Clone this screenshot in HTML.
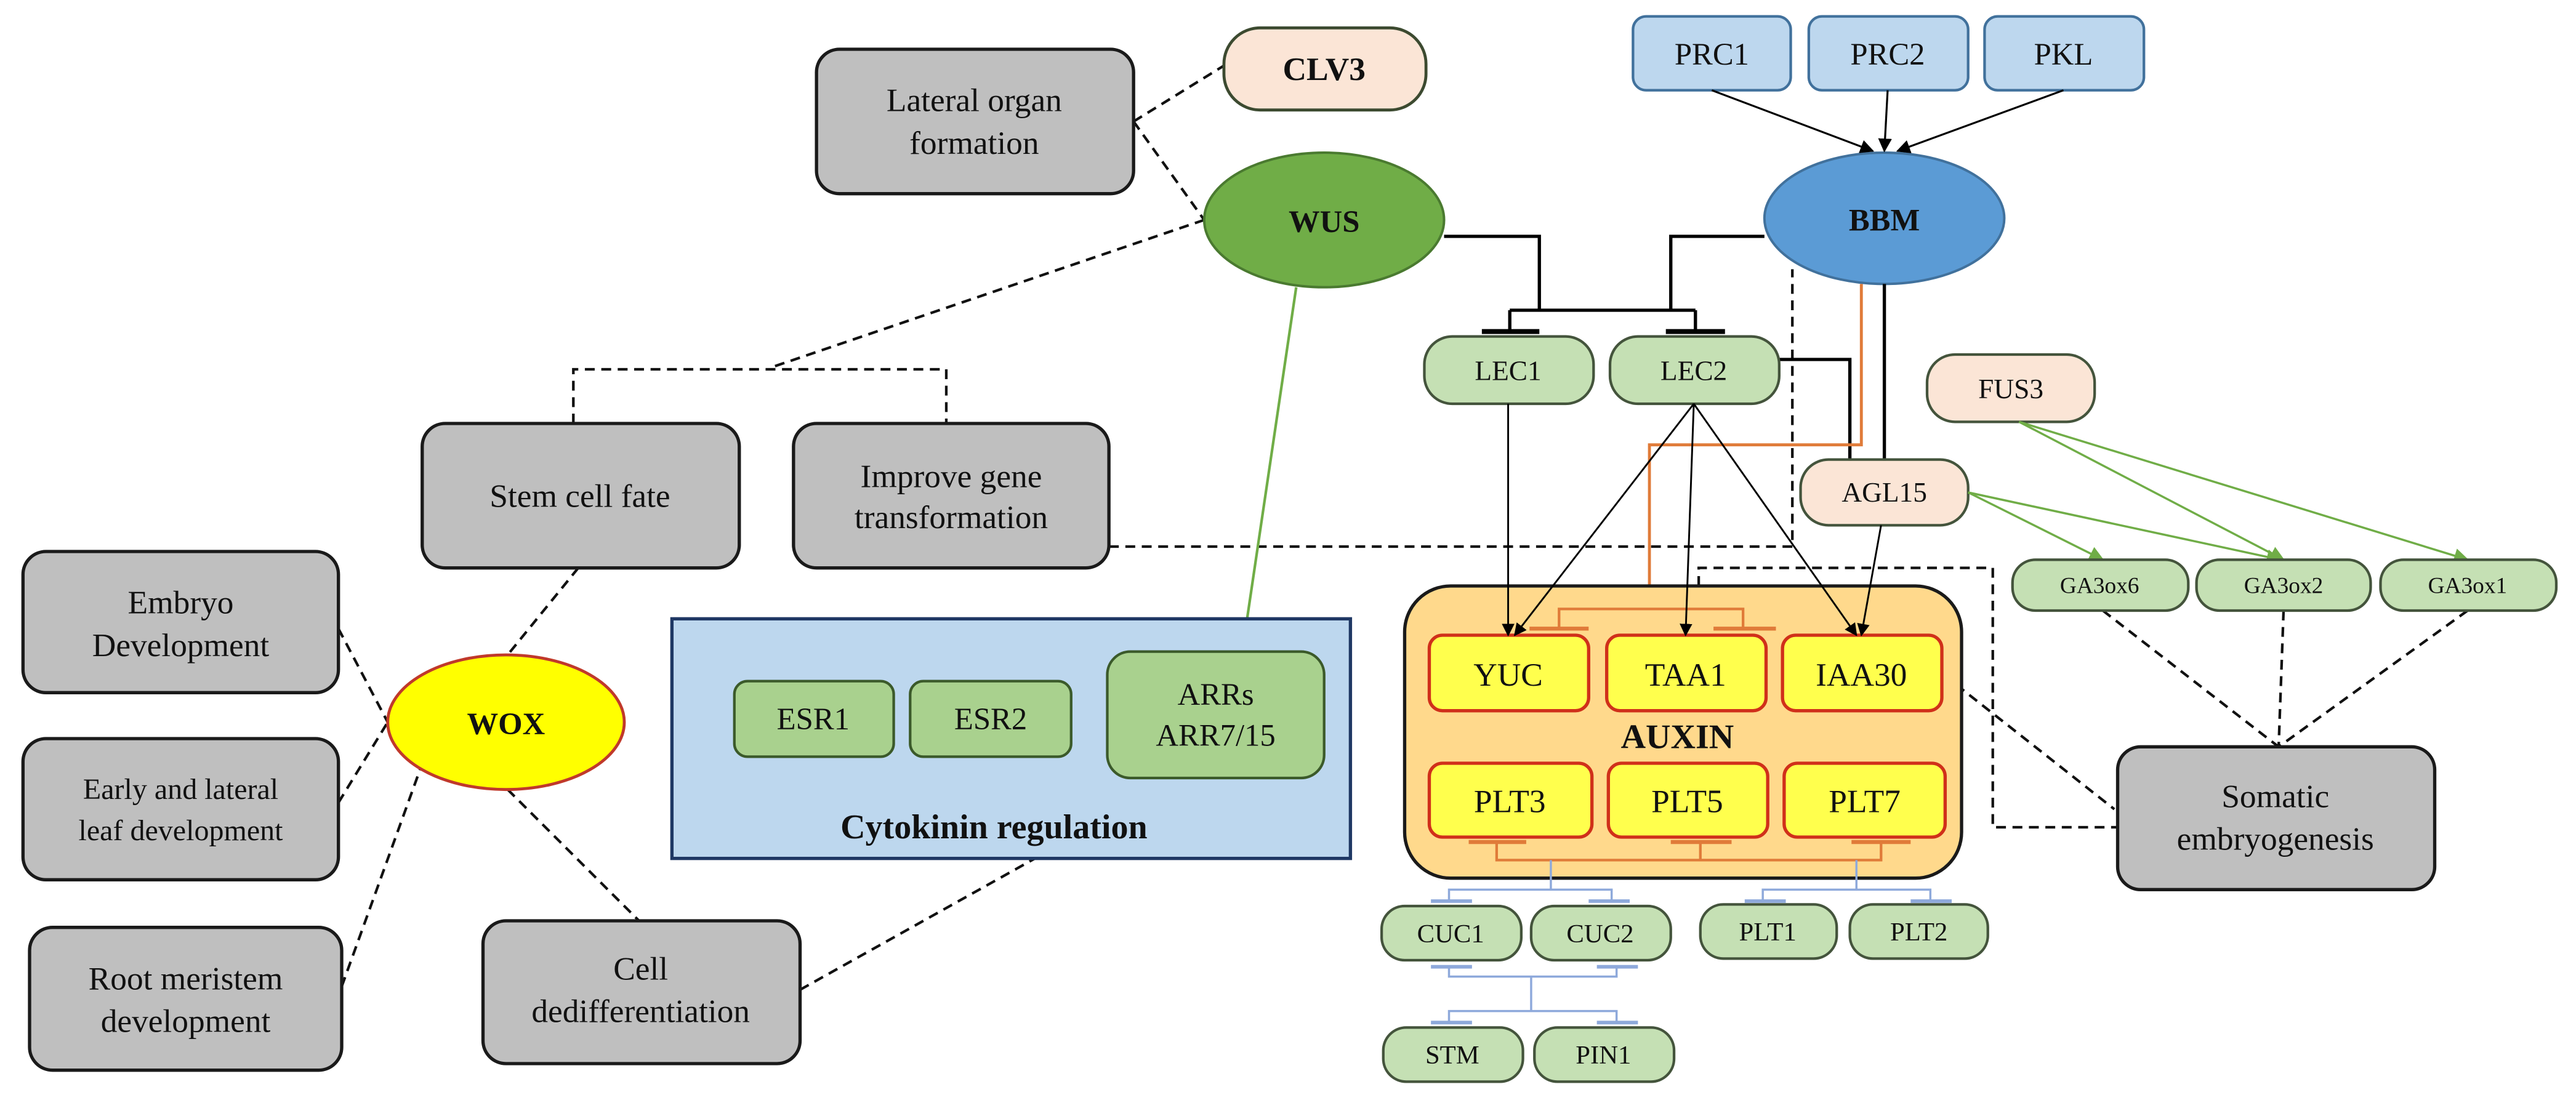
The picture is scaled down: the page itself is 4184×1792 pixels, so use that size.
<!DOCTYPE html>
<html><head><meta charset="utf-8"><style>
html,body{margin:0;padding:0;background:#fff;}
svg{display:block;}
text{font-family:"Liberation Serif",serif;fill:#111;text-anchor:middle;dominant-baseline:central;}
</style></head><body>
<svg width="4184" height="1792" viewBox="0 0 1568 672" preserveAspectRatio="none" xmlns="http://www.w3.org/2000/svg">
<defs>
<marker id="ab" viewBox="0 0 10 10" refX="9" refY="5" markerWidth="7" markerHeight="7" orient="auto"><path d="M0,0L10,5L0,10z" fill="#000"/></marker>
<marker id="ao" viewBox="0 0 10 10" refX="9" refY="5" markerWidth="6" markerHeight="6" orient="auto"><path d="M0,0L10,5L0,10z" fill="#e07b39"/></marker>
<marker id="ag" viewBox="0 0 10 10" refX="9" refY="5" markerWidth="7" markerHeight="7" orient="auto"><path d="M0,0L10,5L0,10z" fill="#70ad47"/></marker>
</defs>

<g stroke="#111" stroke-width="1.6" stroke-dasharray="6,4" fill="none">
<path d="M690,74L745,40"/>
<path d="M690,74L733,134"/>
<path d="M733,134L469,224"/>
<path d="M349,258V225H576V258"/>
<path d="M352,346L309,399"/>
<path d="M206,383L236,440"/>
<path d="M206,489L236,440"/>
<path d="M208,601L256,468"/>
<path d="M309,481L389,561"/>
<path d="M487,603L630,523"/>
<path d="M675,333H1091V164"/>
<path d="M1034,377V346H1213V504H1289"/>
<path d="M1183,411L1287,493"/>
<path d="M1280,372L1387,455"/>
<path d="M1390,372L1387,455"/>
<path d="M1502,372L1387,455"/>
</g>

<g fill="#bfbfbf" stroke="#1a1a1a" stroke-width="2">
<rect x="497" y="30" width="193" height="88" rx="14"/>
<rect x="257" y="258" width="193" height="88" rx="14"/>
<rect x="483" y="258" width="192" height="88" rx="14"/>
<rect x="14" y="336" width="192" height="86" rx="14"/>
<rect x="14" y="450" width="192" height="86" rx="14"/>
<rect x="18" y="565" width="190" height="87" rx="14"/>
<rect x="294" y="561" width="193" height="87" rx="14"/>
<rect x="1289" y="455" width="193" height="87" rx="14"/>
</g>
<g font-size="20">
<text x="593" y="61">Lateral organ</text><text x="593" y="87">formation</text>
<text x="353" y="302">Stem cell fate</text>
<text x="579" y="290">Improve gene</text><text x="579" y="315">transformation</text>
<text x="110" y="367">Embryo</text><text x="110" y="393">Development</text>
<text x="110" y="481" font-size="18">Early and lateral</text><text x="110" y="506" font-size="18">leaf development</text>
<text x="113" y="596">Root meristem</text><text x="113" y="622">development</text>
<text x="390" y="590">Cell</text><text x="390" y="616">dedifferentiation</text>
<text x="1385" y="485">Somatic</text><text x="1385" y="511">embryogenesis</text>
</g>

<rect x="745" y="17" width="123" height="50" rx="22" fill="#fbe5d6" stroke="#3c4a30" stroke-width="1.8"/>
<text x="806" y="42" font-size="20" font-weight="bold">CLV3</text>

<ellipse cx="806" cy="134" rx="73" ry="41" fill="#70ad47" stroke="#4a7a30" stroke-width="1.5"/>
<text x="806" y="135" font-size="19" font-weight="bold">WUS</text>
<ellipse cx="308" cy="440" rx="72" ry="41" fill="#ffff00" stroke="#c0392b" stroke-width="1.8"/>
<text x="308" y="441" font-size="19" font-weight="bold">WOX</text>
<ellipse cx="1147" cy="133" rx="73" ry="40" fill="#5b9bd5" stroke="#41719c" stroke-width="1.5"/>
<text x="1147" y="134" font-size="19" font-weight="bold">BBM</text>

<g fill="#bdd7ee" stroke="#41719c" stroke-width="1.6">
<rect x="994" y="10" width="96" height="45" rx="8"/>
<rect x="1101" y="10" width="97" height="45" rx="8"/>
<rect x="1208" y="10" width="97" height="45" rx="8"/>
</g>
<g font-size="19"><text x="1042" y="33">PRC1</text><text x="1149" y="33">PRC2</text><text x="1256" y="33">PKL</text></g>
<g stroke="#000" stroke-width="1.2" marker-end="url(#ab)">
<path d="M1042,55L1140,92"/><path d="M1149,55L1147,92"/><path d="M1256,55L1155,92"/>
</g>

<g stroke="#000" stroke-width="2" fill="none">
<path d="M879,144H937V189"/>
<path d="M1074,144H1017V189"/>
<path d="M919,189H1032"/>
<path d="M919,189V202M1032,189V202"/>
<path d="M902,202H937M1014,202H1050" stroke-width="3"/>
<path d="M1083,219H1126V280"/>
<path d="M1147,173V280"/>
</g>
<path d="M1133,173V271H1004V369" stroke="#e07b39" stroke-width="1.8" fill="none" marker-end="url(#ao)"/>
<path d="M789,175L756,398" stroke="#70ad47" stroke-width="1.6"/>

<g fill="#c5e0b4" stroke="#44543c" stroke-width="1.6">
<rect x="867" y="205" width="103" height="41" rx="17"/>
<rect x="980" y="205" width="103" height="41" rx="17"/>
</g>
<g font-size="17"><text x="918" y="226">LEC1</text><text x="1031" y="226">LEC2</text></g>
<rect x="1096" y="280" width="102" height="40" rx="17" fill="#fbe5d6" stroke="#44543c" stroke-width="1.6"/>
<text x="1147" y="300" font-size="17">AGL15</text>
<rect x="1173" y="216" width="102" height="41" rx="17" fill="#fbe5d6" stroke="#44543c" stroke-width="1.6"/>
<text x="1224" y="237" font-size="17">FUS3</text>

<g stroke="#70ad47" stroke-width="1.3" marker-end="url(#ag)">
<path d="M1229,257L1390,341"/><path d="M1229,257L1502,341"/>
<path d="M1198,300L1280,341"/><path d="M1198,300L1388,341"/>
</g>
<g fill="#c5e0b4" stroke="#44543c" stroke-width="1.6">
<rect x="1225" y="341" width="107" height="31" rx="14"/>
<rect x="1337" y="341" width="106" height="31" rx="14"/>
<rect x="1449" y="341" width="107" height="31" rx="14"/>
</g>
<g font-size="14"><text x="1278" y="357">GA3ox6</text><text x="1390" y="357">GA3ox2</text><text x="1502" y="357">GA3ox1</text></g>

<rect x="409" y="377" width="413" height="146" fill="#bdd7ee" stroke="#1f3864" stroke-width="2"/>
<g fill="#a9d18e" stroke="#3b5a2a" stroke-width="1.6">
<rect x="447" y="415" width="97" height="46" rx="8"/>
<rect x="554" y="415" width="98" height="46" rx="8"/>
<rect x="674" y="397" width="132" height="77" rx="14"/>
</g>
<g font-size="19"><text x="495" y="438">ESR1</text><text x="603" y="438">ESR2</text>
<text x="740" y="423">ARRs</text><text x="740" y="448">ARR7/15</text></g>
<text x="605" y="504" font-size="21" font-weight="bold">Cytokinin regulation</text>

<rect x="855" y="357" width="339" height="178" rx="28" fill="#ffd98c" stroke="#1a1a1a" stroke-width="2"/>
<g fill="#ffff4d" stroke="#d0301a" stroke-width="2">
<rect x="870" y="387" width="97" height="46" rx="8"/>
<rect x="978" y="387" width="97" height="46" rx="8"/>
<rect x="1085" y="387" width="97" height="46" rx="8"/>
<rect x="870" y="465" width="99" height="45" rx="8"/>
<rect x="979" y="465" width="97" height="45" rx="8"/>
<rect x="1086" y="465" width="98" height="45" rx="8"/>
</g>
<g font-size="20"><text x="918" y="411">YUC</text><text x="1026" y="411">TAA1</text><text x="1133" y="411">IAA30</text>
<text x="919" y="488">PLT3</text><text x="1027" y="488">PLT5</text><text x="1135" y="488">PLT7</text></g>
<text x="1021" y="449" font-size="21" font-weight="bold">AUXIN</text>

<g stroke="#e07b39" stroke-width="1.6" fill="none">
<path d="M949,383V371H1061V383"/>
<path d="M931,383H967M1043,383H1081" stroke-width="2.4"/>
<path d="M894,513H929M1017,513H1054M1127,513H1163" stroke-width="2.4"/>
<path d="M911,513V524H1145V513M1035,513V524"/>
</g>

<g stroke="#000" stroke-width="1.1" marker-end="url(#ab)" fill="none">
<path d="M918,246V387"/>
<path d="M1031,246L922,387"/>
<path d="M1031,246L1026,387"/>
<path d="M1031,246L1130,387"/>
<path d="M1145,320L1133,387"/>
</g>

<g stroke="#8ea9db" stroke-width="1.3" fill="none">
<path d="M944,524V542M882,549V542H981V549M1130,524V542M1073,549V542H1175V549"/>
<path d="M871,549H896M967,549H992M1062,549H1087M1163,549H1188" stroke-width="2.2"/>
<path d="M871,589H896M972,589H997M871,623H896M972,623H997" stroke-width="2.2"/>
<path d="M882,589V595H984V589M932,595V616M882,623V616H984V623"/>
</g>
<g fill="#c5e0b4" stroke="#44543c" stroke-width="1.6">
<rect x="841" y="552" width="85" height="33" rx="14"/>
<rect x="932" y="552" width="85" height="33" rx="14"/>
<rect x="1035" y="551" width="83" height="33" rx="14"/>
<rect x="1126" y="551" width="84" height="33" rx="14"/>
<rect x="842" y="626" width="85" height="33" rx="14"/>
<rect x="934" y="626" width="85" height="33" rx="14"/>
</g>
<g font-size="16"><text x="883" y="569">CUC1</text><text x="974" y="569">CUC2</text><text x="1076" y="568">PLT1</text><text x="1168" y="568">PLT2</text>
<text x="884" y="643">STM</text><text x="976" y="643">PIN1</text></g>
</svg>
</body></html>
